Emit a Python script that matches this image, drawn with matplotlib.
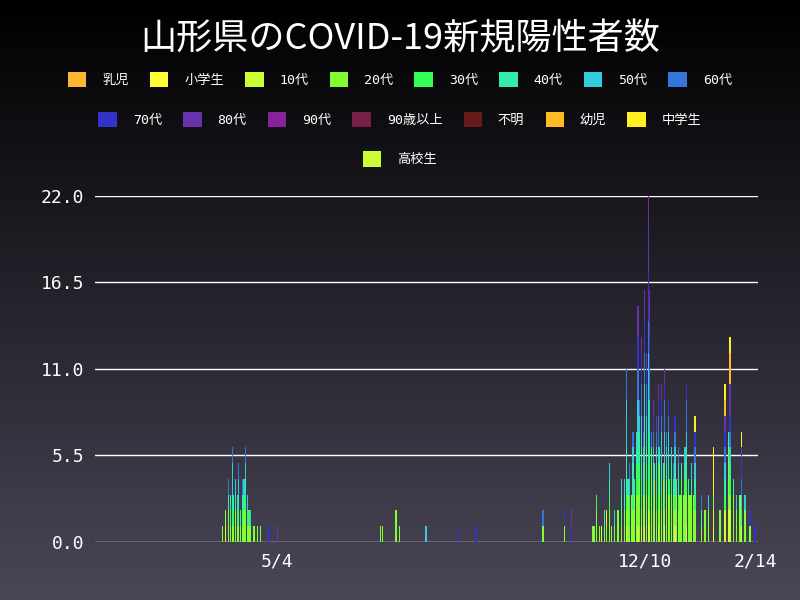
import matplotlib
matplotlib.use("Agg")
import matplotlib.pyplot as plt
from matplotlib.patches import Patch
import numpy as np
import pandas as pd

plt.rcParams["font.family"] = ["DejaVu Sans Mono", "Noto Sans CJK JP"]

labels = ["乳児", "小学生", "10代", "20代", "30代", "40代", "50代", "60代",
          "70代", "80代", "90代", "90歳以上", "不明", "幼児", "中学生", "高校生"]
colors = ["#ffb732", "#ffff33", "#ccff33", "#80ff33", "#33ff55", "#33eeaa", "#33ccdd", "#3377dd",
          "#3333cc", "#6633aa", "#882299", "#771f44", "#661a1a", "#ffbb22", "#ffee22", "#ccff33"]

# days with cases (MM-DD; Jan/Feb are 2021) and daily totals
dates = ["04-01", "04-03", "04-05", "04-06", "04-07", "04-08", "04-09", "04-10", "04-11", "04-12",
         "04-13", "04-14", "04-15", "04-16", "04-17", "04-18", "04-20", "04-22", "04-24", "04-29", "05-04",
         "07-05", "07-06", "07-14", "07-16", "08-01", "08-21", "08-31", "10-10", "10-23", "10-27",
         "11-09", "11-10", "11-11", "11-13", "11-14", "11-16", "11-17", "11-19", "11-20", "11-22",
         "11-24", "11-26", "11-28",
         "11-29", "11-30", "12-01", "12-02", "12-03", "12-04", "12-05", "12-06", "12-07", "12-08",
         "12-09", "12-10", "12-11", "12-12", "12-13", "12-14", "12-15", "12-16", "12-17", "12-18",
         "12-19", "12-20", "12-21", "12-22", "12-23", "12-24", "12-25", "12-26", "12-27", "12-28",
         "12-29", "12-30", "12-31", "01-01", "01-02", "01-03", "01-04", "01-05", "01-06", "01-07",
         "01-08", "01-09",
         "01-13", "01-15", "01-17", "01-20", "01-24", "01-27", "01-29", "01-30", "02-01", "02-03",
         "02-05", "02-06", "02-08", "02-11", "02-14"]
totals = [1, 2, 4, 3, 6, 3, 4, 3, 5, 2,
          4, 4, 6, 3, 2, 2, 1, 1, 1, 1, 1,
          1, 1, 2, 1, 1, 1, 1, 2, 2, 2,
          1, 1, 3, 1, 1, 2, 2, 5, 1, 2,
          2, 4, 4,
          11, 4, 5, 3, 7, 4, 7, 15, 9, 13,
          8, 16, 12, 22, 16, 7, 9, 5, 8, 10,
          6, 10, 5, 11, 7, 9, 4, 6, 5, 8,
          4, 6, 3, 5, 3, 6, 10, 4, 3, 5,
          3, 8,
          3, 2, 3, 6, 2, 10, 7, 13, 4, 3,
          3, 7, 3, 2, 1]

# counts per age group on the days they appear (20代 takes the rest of each day)
teens = {"04-03": 1, "11-14": 1, "11-29": 1, "12-06": 1, "12-08": 1, "12-10": 1, "12-12": 2,
         "12-13": 1, "12-18": 1, "12-22": 1, "12-28": 1, "01-04": 1, "01-20": 1, "01-27": 2,
         "01-29": 2, "01-30": 2, "02-06": 1}
thirties = {"04-06": 1, "04-08": 1, "04-10": 1, "04-11": 1, "04-13": 1, "04-15": 1, "04-17": 1,
            "11-11": 1, "11-19": 1, "11-26": 1, "11-29": 1, "12-01": 1, "12-03": 1, "12-05": 1,
            "12-06": 2, "12-07": 1, "12-08": 2, "12-10": 2, "12-11": 1, "12-12": 3, "12-13": 2,
            "12-15": 1, "12-17": 1, "12-18": 1, "12-20": 1, "12-22": 1, "12-24": 1, "12-26": 1,
            "12-28": 1, "12-30": 1, "01-01": 1, "01-03": 1, "01-04": 1, "01-09": 1, "01-27": 1,
            "01-30": 1}
forties = {"04-05": 1, "04-06": 1, "04-07": 2, "04-08": 1, "04-09": 1, "04-11": 1, "04-12": 1,
           "04-13": 1, "04-14": 1, "04-15": 1, "04-16": 1, "11-16": 1, "11-19": 1, "11-26": 1,
           "11-28": 1, "11-29": 3, "11-30": 1, "12-01": 1, "12-03": 2, "12-04": 1, "12-05": 2,
           "12-06": 2, "12-07": 2, "12-08": 2, "12-09": 2, "12-10": 3, "12-11": 2, "12-12": 3,
           "12-13": 3, "12-14": 1, "12-15": 2, "12-16": 1, "12-17": 2, "12-18": 2, "12-19": 1,
           "12-20": 2, "12-21": 1, "12-22": 2, "12-23": 1, "12-24": 2, "12-25": 1, "12-26": 1,
           "12-27": 1, "12-28": 2, "12-29": 1, "12-30": 1, "01-01": 1, "01-03": 1, "01-04": 2,
           "01-05": 1, "01-07": 1, "01-09": 1, "01-13": 1, "01-27": 1, "01-29": 1, "01-30": 1,
           "02-01": 1, "02-06": 1}
fifties = {"04-07": 2, "04-09": 1, "04-10": 1, "04-11": 1, "04-14": 1, "04-15": 1, "04-16": 1,
           "04-18": 1, "08-01": 1, "11-19": 1, "11-22": 1, "11-26": 1, "11-28": 1, "11-29": 3,
           "12-01": 1, "12-03": 1, "12-05": 1, "12-06": 2, "12-07": 1, "12-08": 2, "12-09": 1,
           "12-10": 2, "12-11": 2, "12-12": 3, "12-13": 2, "12-15": 1, "12-17": 1, "12-18": 1,
           "12-20": 2, "12-22": 2, "12-23": 1, "12-24": 1, "12-26": 1, "12-28": 1, "12-30": 1,
           "01-03": 1, "01-04": 1, "01-07": 1, "01-09": 1, "01-17": 1, "01-27": 1, "01-30": 1,
           "02-03": 1, "02-06": 1, "02-08": 1}
sixties = {"04-05": 1, "04-07": 1, "04-11": 1, "04-13": 1, "04-15": 1, "10-10": 1, "11-29": 2,
           "12-01": 1, "12-03": 1, "12-06": 2, "12-07": 1, "12-08": 2, "12-09": 1, "12-10": 2,
           "12-11": 2, "12-12": 2, "12-13": 2, "12-14": 1, "12-15": 1, "12-17": 1, "12-18": 2,
           "12-20": 1, "12-22": 2, "12-23": 1, "12-24": 1, "12-27": 1, "12-28": 1, "12-30": 1,
           "01-04": 2, "01-09": 1, "01-13": 1, "01-27": 1, "01-30": 1, "02-06": 1}
seventies = {"04-29": 1, "08-21": 1, "08-31": 1, "10-23": 1, "10-27": 1, "12-06": 2, "12-08": 2,
             "12-09": 1, "12-10": 2, "12-11": 1, "12-12": 3, "12-13": 2, "12-15": 1, "12-18": 1,
             "12-20": 1, "12-22": 1, "12-24": 1, "12-28": 1, "01-04": 1, "01-09": 1, "01-27": 1,
             "01-30": 1, "02-06": 1, "02-11": 1, "02-14": 1}
eighties = {"05-04": 1, "10-27": 1, "12-06": 2, "12-08": 1, "12-10": 2, "12-11": 1, "12-12": 4,
            "12-13": 2, "12-15": 1, "12-17": 1, "12-18": 1, "12-20": 1, "12-22": 1, "01-27": 1,
            "01-30": 2, "02-06": 1}
nineties = {"12-12": 1, "12-13": 1}
junior_high = {"11-17": 1, "01-09": 1, "01-20": 3, "01-27": 1, "01-30": 1, "02-06": 1}
infants = {"01-27": 1, "01-30": 2}
elementary = {"01-20": 1}

groups = {"小学生": elementary, "10代": teens, "30代": thirties, "40代": forties,
          "50代": fifties, "60代": sixties, "70代": seventies, "80代": eighties,
          "90代": nineties, "幼児": infants, "中学生": junior_high}


def to_date(md):
    year = 2021 if md[:2] in ("01", "02") else 2020
    return pd.Timestamp(f"{year}-{md}")


x = [to_date(d) for d in dates]
table = pd.DataFrame(0, index=dates, columns=labels)
for name, counts in groups.items():
    for d, v in counts.items():
        table.loc[d, name] = v
table["20代"] = np.maximum(np.array(totals) - table.sum(axis=1).values, 0)

fig = plt.figure(figsize=(8, 6), dpi=100)
bg = fig.add_axes([0, 0, 1, 1])
grad = np.linspace(0, 1, 256).reshape(-1, 1)
bg.imshow(grad, aspect="auto", extent=[0, 1, 0, 1],
          cmap=matplotlib.colors.LinearSegmentedColormap.from_list("bg", ["#000000", "#4a4658"]))
bg.axis("off")

ax = fig.add_axes([0.119, 0.097, 0.829, 0.577])
ax.set_facecolor("none")
bottom = np.zeros(len(dates))
for lab, col in zip(labels, colors):
    vals = table[lab].values.astype(float)
    if vals.sum() == 0:
        continue
    ax.bar(x, vals, bottom=bottom, width=0.75, color=col, linewidth=0, zorder=2)
    bottom += vals

yt = [0, 5.5, 11, 16.5, 22]
for y in yt:
    ax.axhline(y, color="white", lw=1, zorder=1)
ax.set_ylim(0, 22)
ax.set_yticks(yt)
ax.set_yticklabels([f"{v:.1f}" for v in yt])
ax.set_xlim(pd.Timestamp("2020-01-16"), pd.Timestamp("2021-02-16"))
xt = [pd.Timestamp("2020-05-04"), pd.Timestamp("2020-12-10"), pd.Timestamp("2021-02-14")]
ax.set_xticks(xt)
ax.set_xticklabels(["5/4", "12/10", "2/14"])
for s in ax.spines.values():
    s.set_visible(False)
ax.tick_params(colors="white", labelsize=13, length=0, pad=8)

fig.text(0.5, 0.935, "山形県のCOVID-19新規陽性者数", color="white", fontsize=26,
         ha="center", va="center", family=["Noto Sans CJK JP"])

rows = [labels[:8], labels[8:15], labels[15:]]
row_y = [0.868, 0.801, 0.735]
for row, y in zip(rows, row_y):
    handles = [Patch(facecolor=colors[labels.index(l)], edgecolor="none") for l in row]
    fig.legend(handles, row, loc="center", bbox_to_anchor=(0.5, y), ncol=len(row),
               frameon=False, labelcolor="white", handlelength=1.4,
               handleheight=1.4, columnspacing=1.6, handletextpad=1.2,
               prop={"family": ["DejaVu Sans Mono", "Noto Sans CJK JP"], "size": 9.5})

fig.savefig("out.png", dpi=100)
